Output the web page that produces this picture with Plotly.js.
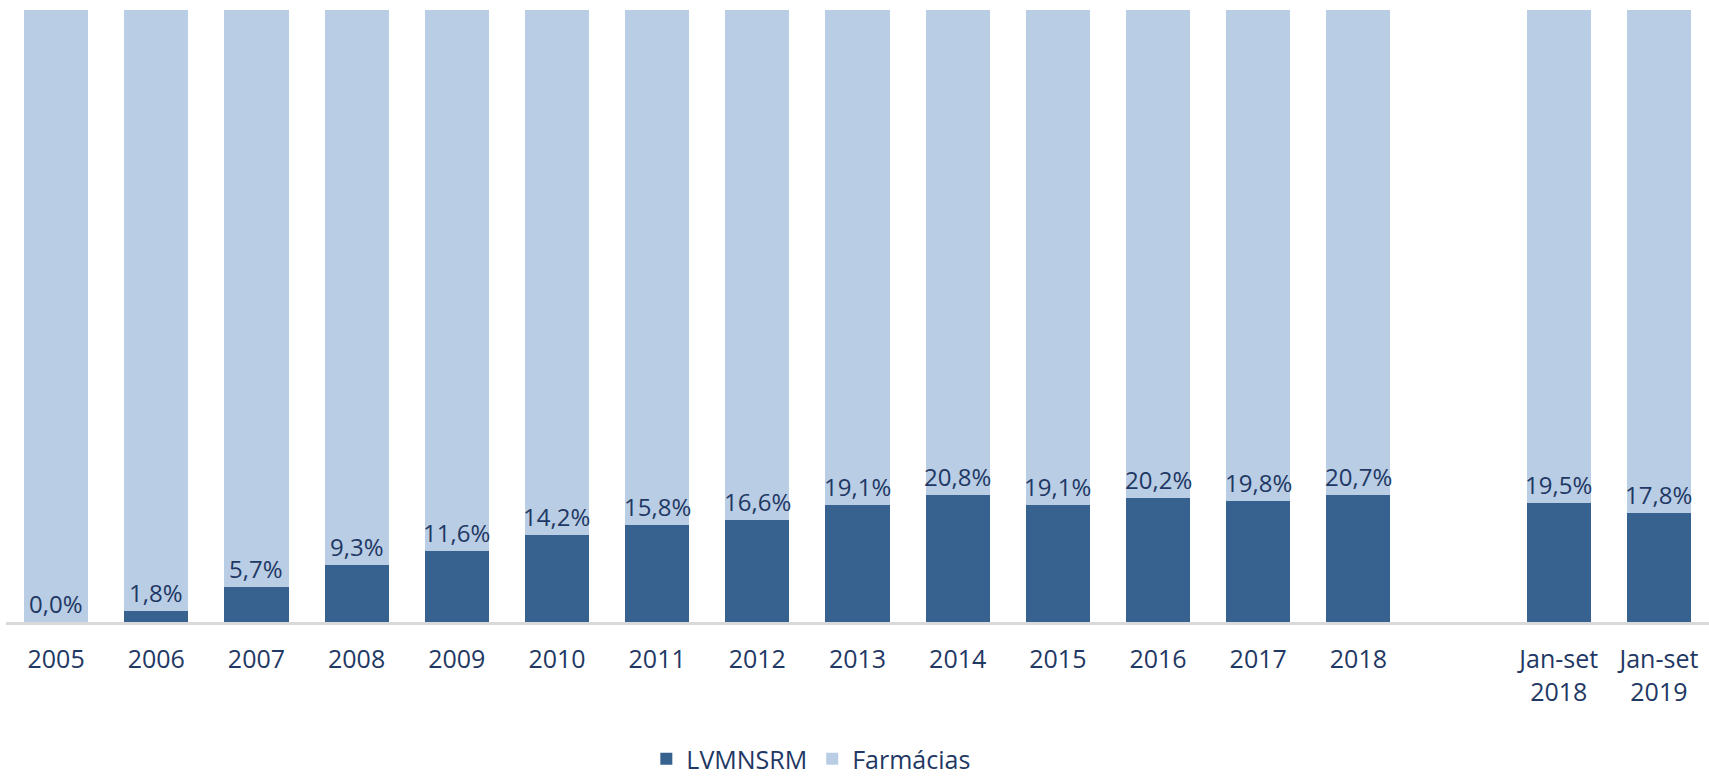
<!DOCTYPE html>
<html>
<head>
<meta charset="utf-8">
<script src="https://cdn.plot.ly/plotly-3.0.1.min.js"></script>
<style>html,body{margin:0;padding:0;background:#fff;}#chart{width:1709px;height:778px;}</style>
</head>
<body>
<div id="chart"></div>
<script>
const categories = ["2005","2006","2007","2008","2009","2010","2011","2012","2013","2014","2015","2016","2017","2018"," ","Jan-set<br>2018","Jan-set<br>2019"];
const lvmnsrm = [0.0,1.8,5.7,9.3,11.6,14.2,15.8,16.6,19.1,20.8,19.1,20.2,19.8,20.7,null,19.5,17.8];
const farmacias = [100.0,98.2,94.3,90.7,88.4,85.8,84.2,83.4,80.9,79.2,80.9,79.8,80.2,79.3,null,80.5,82.2];
const labels = ["0,0%","1,8%","5,7%","9,3%","11,6%","14,2%","15,8%","16,6%","19,1%","20,8%","19,1%","20,2%","19,8%","20,7%","","19,5%","17,8%"];

const textColor = "#1F3864";
const fontFam = "'Open Sans', 'Noto Sans', sans-serif";

const traces = [
  {type:"bar", name:"LVMNSRM", x:categories, y:lvmnsrm, marker:{color:"#37618F"}, width:0.64, hoverinfo:"skip"},
  {type:"bar", name:"Farmácias", x:categories, y:farmacias, marker:{color:"#B9CDE4"}, width:0.64, hoverinfo:"skip"}
];

const annotations = [];
categories.forEach((c,i)=>{
  if (lvmnsrm[i] === null) return;
  annotations.push({x:i, y:lvmnsrm[i], xref:"x", yref:"y", text:labels[i], showarrow:false,
    yanchor:"bottom", yshift:0, font:{size:24, color:textColor, family:fontFam}});
});

const layout = {
  width:1709, height:778,
  margin:{l:6, r:0, t:10, b:156, autoexpand:false},
  barmode:"stack",
  paper_bgcolor:"#fff", plot_bgcolor:"#fff",
  showlegend:true,
  legend:{orientation:"h", x:0.376, xanchor:"left", y:-0.224, yanchor:"middle", traceorder:"normal",
    font:{size:25, color:textColor, family:fontFam}},
  xaxis:{type:"category", categoryorder:"array", categoryarray:categories, range:[-0.5,16.5],
    automargin:false,
    showline:true, linecolor:"#D9D9D9", linewidth:3, ticks:"", showgrid:false, ticklabelstandoff:13,
    tickfont:{size:25, color:textColor, family:fontFam}, fixedrange:true},
  yaxis:{range:[0,100], visible:false, showgrid:false, zeroline:false, fixedrange:true, automargin:false},
  annotations:annotations,
  font:{family:fontFam, color:textColor}
};

Plotly.newPlot("chart", traces, layout, {displayModeBar:false, staticPlot:true});
</script>
</body>
</html>
